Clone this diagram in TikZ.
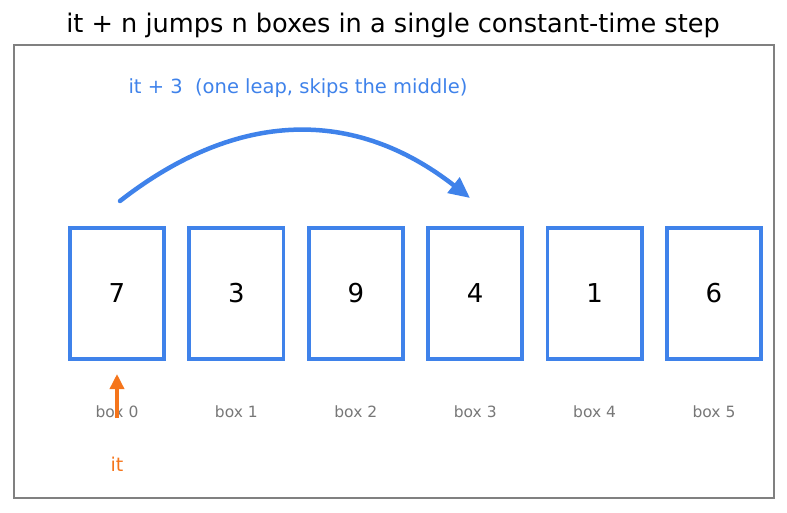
\documentclass[tikz,border=0pt]{standalone}
\usepackage{fontspec}
\setmainfont{DejaVu Sans}
\usetikzlibrary{positioning,arrows.meta}
\definecolor{blue500} {HTML}{3F82EA}
\definecolor{orange500}{HTML}{F5751B}
\definecolor{grey500} {HTML}{777777}
\definecolor{grey400} {HTML}{808080}
\tikzset{
  cell/.style   ={draw=blue500, line width=3.8pt, fill=white,
                  minimum width=94.2pt, minimum height=131.2pt, inner sep=0pt,
                  font=\fontsize{26}{30}\selectfont},
  idx/.style    ={font=\fontsize{15.5}{18}\selectfont, text=grey500, inner sep=1pt},
  leap/.style   ={-{Triangle[length=21pt,width=19pt]}, draw=blue500,
                  line width=4.5pt, line cap=round},
  ptr/.style    ={-{Triangle[length=15pt,width=14pt]}, draw=orange500,
                  line width=3.5pt},
  leaptag/.style={font=\fontsize{19.5}{23}\selectfont, text=blue500},
  ptrtag/.style ={font=\fontsize{19}{23}\selectfont, text=orange500}
}

\begin{document}
\begin{tikzpicture}[x=1pt,y=-1pt]
\useasboundingbox (0,0) rectangle (787,512);
\draw[grey400, line width=1.3pt] (14,45) rectangle (774,498);
\node[font=\fontsize{25.6}{30}\selectfont] (title) at (393,25)
  {it + n jumps n boxes in a single constant-time step};

\node[cell] (b0) at (117,293.5) {7};
\node[cell] (b1) at (236.4,293.5) {3};
\node[cell] (b2) at (355.8,293.5) {9};
\node[cell] (b3) at (475.2,293.5) {4};
\node[cell] (b4) at (594.6,293.5) {1};
\node[cell] (b5) at (714,293.5) {6};

\node[idx] (l0) at (117,412) {box 0};
\node[idx] (l1) at (236.4,412) {box 1};
\node[idx] (l2) at (355.8,412) {box 2};
\node[idx] (l3) at (475.2,412) {box 3};
\node[idx] (l4) at (594.6,412) {box 4};
\node[idx] (l5) at (714,412) {box 5};

\node[leaptag, anchor=west] (jump) at (125,88)
  {it + 3\ \ (one leap, skips the middle)};
\node[ptrtag] (it) at (117,464) {it};

\coordinate (from) at (120,201);
\coordinate (to)   at (470,198);
\coordinate (tail) at (117,418);
\coordinate (head) at (117,374);

\draw[leap] (from) .. controls (238,109) and (355,108) .. (to);
\draw[ptr] (tail) -- (head);
\end{tikzpicture}
\end{document}
